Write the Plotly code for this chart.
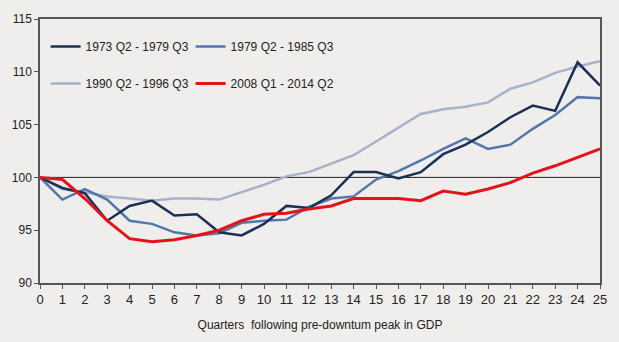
import plotly.graph_objects as go

quarters = list(range(26))
s1973 = [100, 99.0, 98.5, 95.9, 97.3, 97.8, 96.4, 96.5, 94.8, 94.5, 95.6, 97.3, 97.1, 98.3,
         100.5, 100.5, 99.9, 100.5, 102.2, 103.1, 104.3, 105.7, 106.8, 106.3, 110.9, 108.7]
s1979 = [100, 97.9, 98.9, 97.9, 95.9, 95.6, 94.8, 94.5, 94.7, 95.7, 95.9, 96.0, 97.2, 98.0,
         98.2, 99.8, 100.6, 101.6, 102.7, 103.7, 102.7, 103.1, 104.6, 105.9, 107.6, 107.5]
s1990 = [100, 98.9, 98.6, 98.2, 98.0, 97.8, 98.0, 98.0, 97.9, 98.6, 99.3, 100.1, 100.5, 101.3,
         102.1, 103.4, 104.7, 106.0, 106.45, 106.7, 107.1, 108.4, 109.0, 109.9, 110.5, 111.0]
s2008 = [100, 99.8, 98.0, 95.9, 94.2, 93.9, 94.1, 94.5, 95.0, 95.9, 96.5, 96.6, 97.0, 97.3,
         98.0, 98.0, 98.0, 97.8, 98.7, 98.4, 98.9, 99.5, 100.4, 101.1, 101.9, 102.7]

names = ["1973 Q2 - 1979 Q3", "1979 Q2 - 1985 Q3", "1990 Q2 - 1996 Q3", "2008 Q1 - 2014 Q2"]
colors = ["#1c2f55", "#5376ab", "#a7b1c8", "#e3131b"]
series = [s1973, s1979, s1990, s2008]
legends = ["legend", "legend", "legend2", "legend2"]
order = [2, 1, 0, 3]

font = "Liberation Sans Narrow, Arial Narrow, Liberation Sans, Arial, sans-serif"

fig = go.Figure()
for i in order:
    fig.add_trace(go.Scatter(x=quarters, y=series[i], mode="lines", name=names[i],
                             line=dict(color=colors[i], width=3 if i == 3 else 2.5),
                             legend=legends[i], legendrank=i))

fig.add_shape(type="line", xref="paper", x0=0, x1=1, yref="y", y0=100, y1=100,
              line=dict(color="#222222", width=1), layer="below")

leg_common = dict(orientation="h", bgcolor="rgba(0,0,0,0)", font=dict(size=12, color="#222", family=font),
                  entrywidth=100, entrywidthmode="pixels", itemwidth=30, traceorder="normal",
                  xanchor="left", yanchor="middle")
fig.update_layout(
    width=619, height=342,
    margin=dict(l=30, r=18, t=15, b=57),
    paper_bgcolor="#efeeec", plot_bgcolor="#efeeec",
    font=dict(family=font, size=12, color="#222"),
    showlegend=True,
    legend=dict(x=0.01, y=0.896, **leg_common),
    legend2=dict(x=0.01, y=0.756, **leg_common),
    xaxis=dict(range=[0, 25], tickmode="linear", dtick=1, showgrid=False, zeroline=False,
               showline=True, linecolor="#555", linewidth=1.5, mirror=True,
               ticks="outside", ticklen=4, tickcolor="#555",
               tickfont=dict(size=13, family=font),
               title=dict(text="Quarters  following pre-downtum peak in GDP", font=dict(size=12, family=font), standoff=14)),
    yaxis=dict(range=[90, 115], tickmode="linear", dtick=5, showgrid=False, zeroline=False,
               showline=True, linecolor="#555", linewidth=1.5, mirror=True,
               ticks="outside", ticklen=4, tickcolor="#555",
               tickfont=dict(size=12, family=font)),
)

fig.write_html("out.html")
